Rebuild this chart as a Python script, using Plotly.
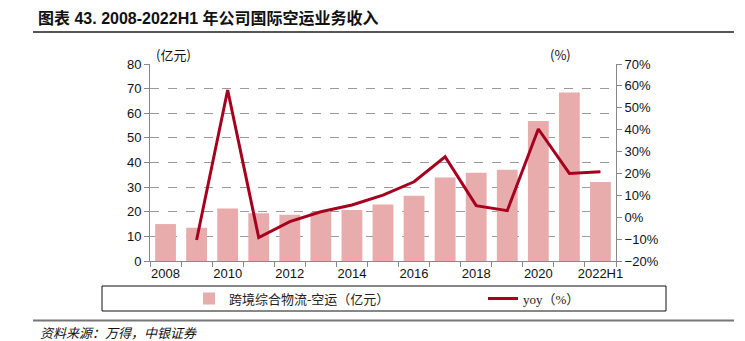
import plotly.graph_objects as go

categories = ["2008", "2009", "2010", "2011", "2012", "2013", "2014", "2015",
              "2016", "2017", "2018", "2019", "2020", "2021", "2022H1"]
revenue = [15.0, 13.5, 21.3, 19.4, 18.8, 19.9, 20.7, 22.9, 26.5, 33.9, 35.8, 37.1, 56.9, 68.4, 32.1]
yoy = [None, -10.4, 58.1, -9.3, -2.0, 2.5, 5.6, 10.1, 16.2, 27.6, 5.3, 3.0, 40.3, 20.0, 20.8]
left_ticks = [0, 10, 20, 30, 40, 50, 60, 70, 80]
right_ticks = [-20, -10, 0, 10, 20, 30, 40, 50, 60, 70]

xpos = list(range(len(categories)))

W, H = 745, 341
L, R, T, B = 150, 616, 64, 261


def px(x):
    return (x - L) / (R - L)


def py(y):
    return (B - y) / (B - T)


num_font = "Liberation Sans, Arial, sans-serif"
cjk = "Noto Sans CJK SC"
legend_font = dict(family="Liberation Serif, " + cjk, size=13, color="#222")

fig = go.Figure()
fig.add_trace(go.Bar(
    x=xpos, y=revenue, name="跨境综合物流-空运（亿元）",
    marker=dict(color="#E8ACAC", line=dict(width=0)),
    yaxis="y", legend="legend",
))
fig.add_trace(go.Scatter(
    x=xpos, y=[v / 100 if v is not None else None for v in yoy], name="yoy（%）",
    mode="lines", line=dict(color="#A6001F", width=3),
    yaxis="y2", legend="legend2",
))

leg_common = dict(
    orientation="h", xref="container", yref="container",
    y=1 - 298.5 / H, xanchor="left", yanchor="middle",
    font=legend_font, bgcolor="rgba(0,0,0,0)", borderwidth=0,
)

fig.update_layout(
    width=W, height=H, autosize=False,
    margin=dict(l=L, r=W - R, t=T, b=H - B, pad=0, autoexpand=False),
    paper_bgcolor="white", plot_bgcolor="white",
    bargap=0.33,
    showlegend=True,
    legend=dict(x=189 / W, **leg_common),
    legend2=dict(x=483 / W, **leg_common),
    xaxis=dict(
        range=[-0.5, len(categories) - 0.5],
        tickmode="array", tickvals=xpos[::2], ticktext=categories[::2],
        ticks="", showgrid=False, zeroline=False,
        showline=True, linecolor="#888", linewidth=1,
        tickfont=dict(family=num_font, size=13, color="#111"),
        minor=dict(ticks="outside", tick0=-0.5, dtick=1, ticklen=5,
                   tickcolor="#888", showgrid=False),
    ),
    yaxis=dict(
        range=[0, 80], tickvals=left_ticks,
        ticks="outside", ticklen=5, tickcolor="#888",
        showline=True, linecolor="#888", linewidth=1,
        showgrid=True, gridcolor="#9a9a9a", griddash="dash", gridwidth=1,
        zeroline=False,
        tickfont=dict(family=num_font, size=13, color="#111"),
    ),
    yaxis2=dict(
        range=[-0.2, 0.7], tickvals=[v / 100 for v in right_ticks],
        tickformat=".0%", overlaying="y", side="right",
        ticks="outside", ticklen=5, tickcolor="#888",
        showline=True, linecolor="#888", linewidth=1,
        showgrid=False, zeroline=False,
        tickfont=dict(family=num_font, size=13, color="#111"),
    ),
)

# Legend frame
fig.add_shape(type="rect", xref="paper", yref="paper",
              x0=px(102), x1=px(666), y0=py(311), y1=py(286),
              line=dict(color="#111", width=1), fillcolor="rgba(0,0,0,0)")
# Title underline and footer line
fig.add_shape(type="line", xref="paper", yref="paper",
              x0=px(33), x1=px(734), y0=py(32), y1=py(32),
              line=dict(color="#555", width=2))
fig.add_shape(type="line", xref="paper", yref="paper",
              x0=px(33), x1=px(734), y0=py(320.5), y1=py(320.5),
              line=dict(color="#777", width=2))

fig.add_annotation(xref="paper", yref="paper", x=px(36), y=py(18),
                   xanchor="left", yanchor="middle", showarrow=False,
                   text="<b>图表 43. 2008-2022H1 年公司国际空运业务收入</b>",
                   font=dict(family="Liberation Sans, " + cjk, size=16, color="#111"))
fig.add_annotation(xref="paper", yref="paper", x=px(173), y=py(55),
                   xanchor="center", yanchor="middle", showarrow=False,
                   text="(亿元)", font=dict(family=cjk, size=13, color="#111"))
fig.add_annotation(xref="paper", yref="paper", x=px(560), y=py(55),
                   xanchor="center", yanchor="middle", showarrow=False,
                   text="(%)", font=dict(family=cjk, size=13, color="#111"))
fig.add_annotation(xref="paper", yref="paper", x=px(38), y=py(332),
                   xanchor="left", yanchor="middle", showarrow=False,
                   text="<i>资料来源：万得，中银证券</i>",
                   font=dict(family=cjk, size=13, color="#111"))

fig.write_html("out.html")
